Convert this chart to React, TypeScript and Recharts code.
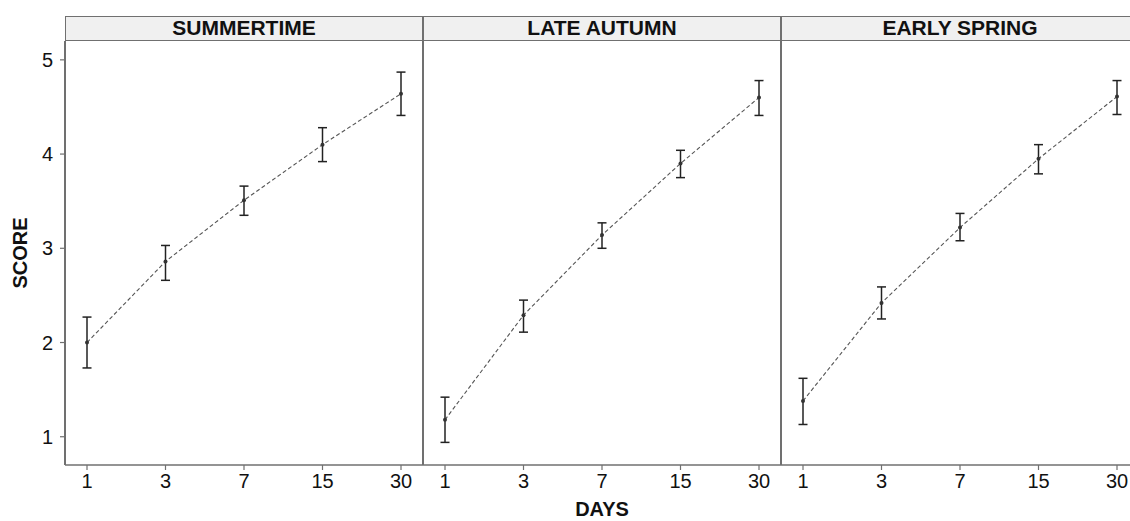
import React from "react"
import { LineChart, Line, XAxis, YAxis, ErrorBar } from "recharts"

const days = ["1", "3", "7", "15", "30"]
const panels = ["SUMMERTIME", "LATE AUTUMN", "EARLY SPRING"]

const summerMean = [2.0, 2.86, 3.51, 4.1, 4.64]
const summerLow = [1.73, 2.66, 3.35, 3.92, 4.41]
const summerHigh = [2.27, 3.03, 3.66, 4.28, 4.87]

const autumnMean = [1.18, 2.29, 3.14, 3.9, 4.6]
const autumnLow = [0.94, 2.11, 3.0, 3.75, 4.41]
const autumnHigh = [1.42, 2.45, 3.27, 4.04, 4.78]

const springMean = [1.38, 2.42, 3.22, 3.95, 4.61]
const springLow = [1.13, 2.25, 3.08, 3.79, 4.42]
const springHigh = [1.62, 2.59, 3.37, 4.1, 4.78]

const yTicks = [1, 2, 3, 4, 5]

const series = [
  { mean: summerMean, low: summerLow, high: summerHigh },
  { mean: autumnMean, low: autumnLow, high: autumnHigh },
  { mean: springMean, low: springLow, high: springHigh },
]

const font = "'Liberation Sans', Arial, sans-serif"
const frame = "#707070"
const PLOT_LEFT = 65
const PANEL_W = 358
const TOP = 16
const STRIP_H = 25
const PLOT_TOP = TOP + STRIP_H
const PLOT_BOTTOM = 465

function buildRows(s: { mean: number[]; low: number[]; high: number[] }) {
  return days.map((d, i) => ({
    day: d,
    score: s.mean[i],
    err: [s.mean[i] - s.low[i], s.high[i] - s.mean[i]],
  }))
}

// tick text drawn by hand so the size sticks
const XTick = (props: any) => {
  const { x, y, payload } = props
  return (
    <text x={x} y={y + 16} textAnchor="middle" fontSize={20} fill="#111" fontFamily={font}>
      {payload.value}
    </text>
  )
}

const YTick = (props: any) => {
  const { x, y, payload } = props
  return (
    <text x={x} y={y + 7} textAnchor="end" fontSize={20} fill="#111" fontFamily={font}>
      {payload.value}
    </text>
  )
}

function Panel({ index }: { index: number }) {
  const first = index === 0
  const yw = first ? PLOT_LEFT : 0
  const left = first ? 0 : PLOT_LEFT + index * PANEL_W
  return (
    <div style={{ position: "absolute", left, top: 0 }}>
      <LineChart
        width={PANEL_W + yw}
        height={521}
        data={buildRows(series[index])}
        margin={{ top: PLOT_TOP, right: 0, bottom: 26, left: 0 }}
      >
        <XAxis
          dataKey="day"
          type="category"
          interval={0}
          padding={{ left: 22, right: 22 }}
          height={30}
          tickSize={5}
          tickMargin={2}
          axisLine={{ stroke: frame, strokeWidth: 1.5 }}
          tickLine={{ stroke: frame, strokeWidth: 1.2 }}
          tick={<XTick />}
        />
        <YAxis
          hide={!first}
          width={yw}
          domain={[0.7, 5.2]}
          ticks={yTicks}
          allowDataOverflow
          axisLine={false}
          tickSize={5}
          tickMargin={7}
          tickLine={{ stroke: frame, strokeWidth: 1.2 }}
          tick={<YTick />}
        />
        <Line
          type="linear"
          dataKey="score"
          stroke="#555"
          strokeWidth={1.1}
          strokeDasharray="4 2.5"
          dot={{ r: 2, fill: "#333", stroke: "none" }}
          activeDot={false}
          isAnimationActive={false}
        >
          <ErrorBar dataKey="err" direction="y" width={4.5} stroke="#222" strokeWidth={1.5} />
        </Line>
      </LineChart>
    </div>
  )
}

export default function App() {
  return (
    <div
      style={{
        position: "absolute",
        left: 0,
        top: 0,
        width: 1130,
        height: 521,
        overflow: "hidden",
        background: "#fff",
        fontFamily: font,
      }}
    >
      {panels.map((_, i) => (
        <Panel key={i} index={i} />
      ))}
      {panels.map((name, i) => (
        <div
          key={name}
          style={{
            position: "absolute",
            left: PLOT_LEFT + i * PANEL_W,
            top: TOP,
            width: PANEL_W,
            height: STRIP_H,
            boxSizing: "border-box",
            border: `1.5px solid ${frame}`,
            background: "#f0f0f0",
            fontWeight: "bold",
            fontSize: 21,
            lineHeight: `${STRIP_H - 3}px`,
            textAlign: "center",
            color: "#111",
          }}
        >
          {name}
        </div>
      ))}
      {[0, 1, 2].map((i) => (
        <div
          key={i}
          style={{
            position: "absolute",
            left: PLOT_LEFT + i * PANEL_W - 0.75,
            top: PLOT_TOP,
            width: 1.5,
            height: PLOT_BOTTOM - PLOT_TOP,
            background: frame,
          }}
        />
      ))}
      <div
        style={{
          position: "absolute",
          left: PLOT_LEFT,
          width: 3 * PANEL_W,
          top: 498,
          textAlign: "center",
          fontWeight: "bold",
          fontSize: 20,
          color: "#111",
        }}
      >
        DAYS
      </div>
      <div
        style={{
          position: "absolute",
          left: 20,
          top: 253,
          transform: "translate(-50%, -50%) rotate(-90deg)",
          fontWeight: "bold",
          fontSize: 20,
          color: "#111",
        }}
      >
        SCORE
      </div>
    </div>
  )
}
